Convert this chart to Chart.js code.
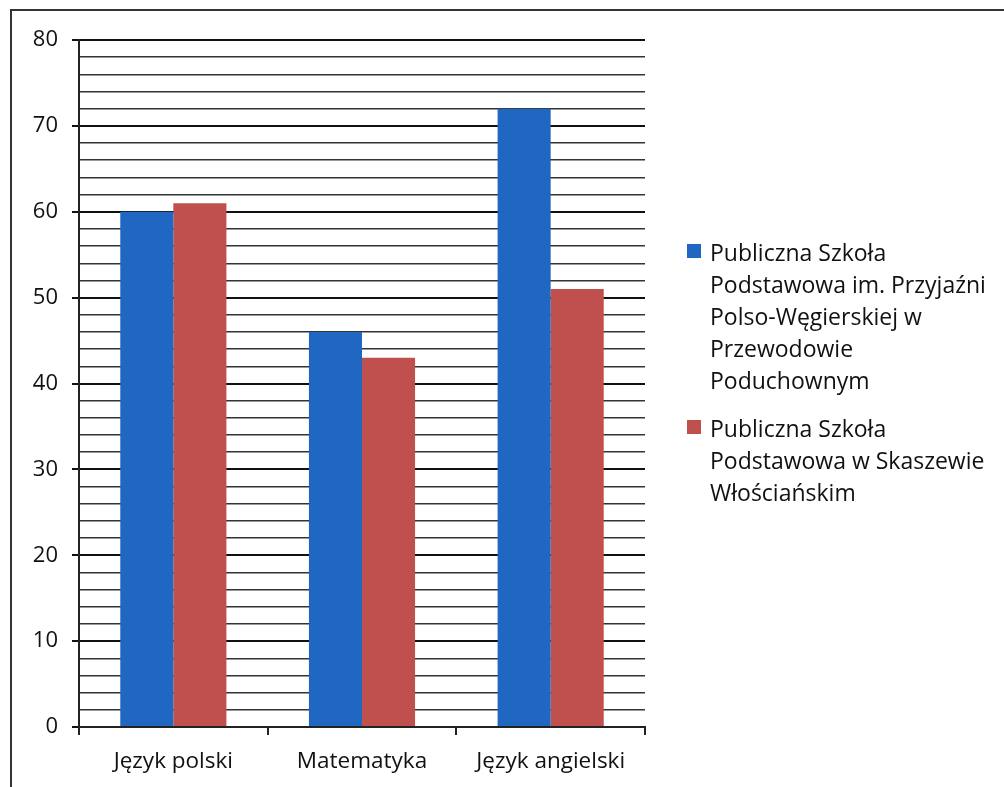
<!DOCTYPE html>
<html>
<head>
<meta charset="utf-8">
<script src="https://cdn.jsdelivr.net/npm/chart.js@4"></script>
<style>
    html, body { margin: 0; padding: 0; background: #fff; overflow: hidden; }
    #wrap { position: relative; width: 1004px; height: 787px; }
    #frame { position: absolute; left: 10px; top: 9px; width: 1100px; height: 900px; border: 2px solid #333; }
    #legend { position: absolute; left: 687px; top: 236px; font-family: "Open Sans", sans-serif; font-size: 23px; line-height: 32px; color: #111; }
    .item { position: relative; padding-left: 23px; margin-bottom: 16px; }
    .box { position: absolute; left: 0; top: 8px; width: 14px; height: 14px; }
</style>
</head>
<body>
<div id="wrap">
    <div id="frame"></div>
    <canvas id="chart" width="1004" height="787"></canvas>
    <div id="legend"></div>
</div>
<script>
const categories = ['Język polski', 'Matematyka', 'Język angielski'];
const seriesNames = [
    ['Publiczna Szkoła', 'Podstawowa im. Przyjaźni', 'Polso-Węgierskiej w', 'Przewodowie', 'Poduchownym'],
    ['Publiczna Szkoła', 'Podstawowa w Skaszewie', 'Włościańskim']
];
const przewodow = [60, 46, 72];
const skaszewo = [61, 43, 51];
const colors = ['#1f67c0', '#c0504d'];
const yMax = 80;
const yStep = 2;

// legend on the right, lines wrapped like in the original
const legendEl = document.getElementById('legend');
seriesNames.forEach((lines, i) => {
    const item = document.createElement('div');
    item.className = 'item';
    item.innerHTML = `<span class="box" style="background:${colors[i]}"></span>${lines.join('<br>')}`;
    legendEl.appendChild(item);
});

const ctx = document.getElementById('chart').getContext('2d');
const chart = new Chart(ctx, {
    type: 'bar',
    data: {
        labels: categories,
        datasets: [
            { label: seriesNames[0].join(' '), data: przewodow, backgroundColor: colors[0] },
            { label: seriesNames[1].join(' '), data: skaszewo, backgroundColor: colors[1] }
        ]
    },
    options: {
        responsive: false,
        animation: false,
        layout: { padding: { top: 40, right: 359, left: 0, bottom: 0 } },
        plugins: { legend: { display: false }, tooltip: { enabled: false } },
        datasets: { bar: { categoryPercentage: 0.5625, barPercentage: 1 } },
        scales: {
            x: {
                grid: { display: true, drawOnChartArea: false, offset: true, tickLength: 8, color: '#222', lineWidth: 2 },
                border: { display: true, color: '#222', width: 2 },
                ticks: { color: '#111', padding: 13, font: { family: 'Open Sans', size: 22.5 } },
                afterFit: scale => { scale.height = 60; }
            },
            y: {
                min: 0,
                max: yMax,
                ticks: {
                    stepSize: yStep,
                    autoSkip: false,
                    color: '#111',
                    padding: 14,
                    font: { family: 'Open Sans', size: 22 },
                    callback: v => (v % 10 === 0 ? v : '')
                },
                grid: {
                    color: c => (c.tick.value % 10 === 0 ? '#111' : '#333'),
                    lineWidth: c => (c.tick.value % 10 === 0 ? 2 : 1.5),
                    tickColor: c => (c.tick.value % 10 === 0 ? '#111' : 'rgba(0,0,0,0)'),
                    tickLength: 7
                },
                border: { display: true, color: '#222', width: 2 },
                afterFit: scale => { scale.width = 79; }
            }
        }
    }
});
</script>
</body>
</html>
